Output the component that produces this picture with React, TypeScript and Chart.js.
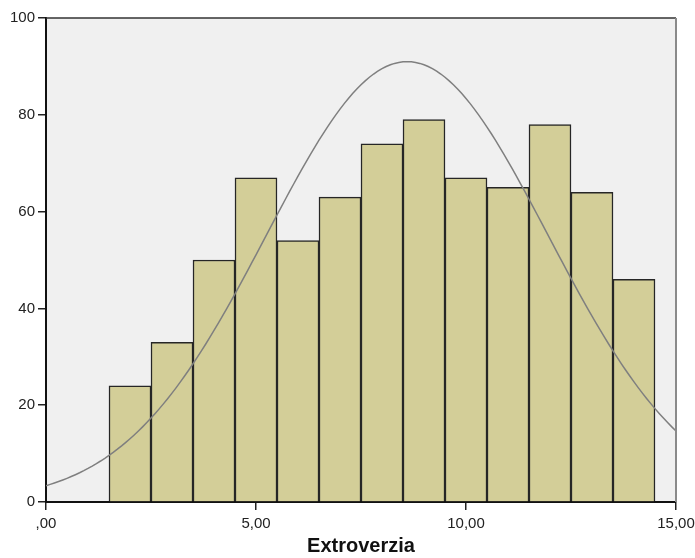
import React, { useEffect, useRef } from "react";
import { Chart, registerables } from "chart.js";

Chart.register(...registerables);

// Histogram bins (bin width 1) and their frequencies
const binCenters = [2, 3, 4, 5, 6, 7, 8, 9, 10, 11, 12, 13, 14];
const frequencies = [24, 33, 50, 67, 54, 63, 74, 79, 67, 65, 78, 64, 46];

// Fitted normal curve parameters
const curveMean = 8.6;
const curveSd = 3.35;
const binWidth = 1;

const xTicks = [0, 5, 10, 15];
const yTicks = [0, 20, 40, 60, 80, 100];
const xTitle = "Extroverzia";

const FONT = "'Liberation Sans', Arial, sans-serif";

function normalCurve(): { x: number; y: number }[] {
  const n = frequencies.reduce((a, b) => a + b, 0);
  const pts: { x: number; y: number }[] = [];
  for (let i = 0; i <= 150; i++) {
    const x = i / 10;
    const z = (x - curveMean) / curveSd;
    const y = (n * binWidth) / (curveSd * Math.sqrt(2 * Math.PI)) * Math.exp(-0.5 * z * z);
    pts.push({ x, y });
  }
  return pts;
}

// Fills the plot area and draws the frame on top and right
const plotFrame = {
  id: "plotFrame",
  beforeDraw(chart: any) {
    const { ctx, chartArea: a } = chart;
    ctx.save();
    ctx.fillStyle = "#f0f0f0";
    ctx.fillRect(a.left, a.top, a.right - a.left, a.bottom - a.top);
    ctx.restore();
  },
  afterDraw(chart: any) {
    const { ctx, chartArea: a } = chart;
    ctx.save();
    ctx.strokeStyle = "#333333";
    ctx.lineWidth = 1.5;
    ctx.beginPath();
    ctx.moveTo(a.left, a.top);
    ctx.lineTo(a.right, a.top);
    ctx.stroke();
    ctx.strokeStyle = "#8a8a8a";
    ctx.lineWidth = 2;
    ctx.beginPath();
    ctx.moveTo(a.right, a.top);
    ctx.lineTo(a.right, a.bottom);
    ctx.stroke();
    ctx.restore();
  },
};

export default function App() {
  const ref = useRef<HTMLCanvasElement>(null);

  useEffect(() => {
    document.body.style.margin = "0";
    const canvas = ref.current!;
    const chart = new Chart(canvas, {
      type: "bar",
      data: {
        datasets: [
          {
            type: "line",
            data: normalCurve(),
            borderColor: "#7f7f7f",
            borderWidth: 1.5,
            pointRadius: 0,
            tension: 0,
            order: 0,
          } as any,
          {
            type: "bar",
            data: binCenters.map((x, i) => ({ x, y: frequencies[i] })),
            backgroundColor: "#d3ce98",
            borderColor: "#262626",
            borderWidth: 1.5,
            barPercentage: 1,
            categoryPercentage: 1,
            order: 1,
          } as any,
        ],
      },
      options: {
        responsive: false,
        animation: false,
        layout: { padding: { top: 18, right: 19, left: 0, bottom: 0 } },
        plugins: { legend: { display: false }, tooltip: { enabled: false } },
        scales: {
          x: {
            type: "linear",
            min: 0,
            max: 15,
            offset: false,
            afterBuildTicks: (s: any) => {
              s.ticks = xTicks.map((v) => ({ value: v }));
            },
            ticks: {
              color: "#222",
              font: { family: FONT, size: 15 },
              padding: 5,
              maxRotation: 0,
              callback: (v: any) => {
                const s = Number(v).toFixed(2).replace(".", ",");
                return s.startsWith("0,") ? s.slice(1) : s;
              },
            },
            grid: {
              display: true,
              offset: false,
              drawOnChartArea: false,
              drawTicks: true,
              tickLength: 8,
              color: "#222",
              lineWidth: 1.5,
            },
            border: { display: true, color: "#111", width: 2 },
            title: {
              display: true,
              text: xTitle,
              color: "#111",
              font: { family: FONT, size: 20, weight: "bold" },
              padding: { top: 2, bottom: 0 },
            },
            afterFit: (s: any) => {
              s.height = 56;
              s.paddingLeft = 0;
              s.paddingRight = 0;
            },
          },
          y: {
            min: 0,
            max: 100,
            afterBuildTicks: (s: any) => {
              s.ticks = yTicks.map((v) => ({ value: v }));
            },
            ticks: {
              color: "#222",
              font: { family: FONT, size: 15 },
              padding: 3,
            },
            grid: {
              display: true,
              drawOnChartArea: false,
              drawTicks: true,
              tickLength: 8,
              color: "#222",
              lineWidth: 1.5,
            },
            border: { display: true, color: "#111", width: 2 },
            afterFit: (s: any) => {
              s.width = 46;
              s.paddingTop = 0;
              s.paddingBottom = 0;
            },
          },
        },
      },
      plugins: [plotFrame],
    });
    return () => chart.destroy();
  }, []);

  return <canvas ref={ref} width={695} height={558} style={{ display: "block" }} />;
}
